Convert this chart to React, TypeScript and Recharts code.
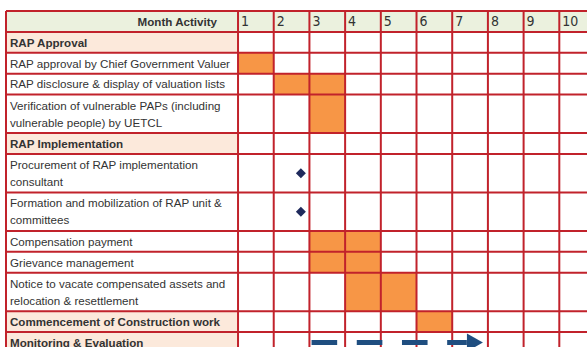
import React from 'react';
import { ComposedChart, XAxis, YAxis, ReferenceArea, ReferenceLine, Scatter } from 'recharts';

// month columns
const months = ['1', '2', '3', '4', '5', '6', '7', '8', '9', '10'];

// activity rows ("\n" = wrapped line in the cell)
const activities = [
  'RAP Approval',
  'RAP approval by Chief Government Valuer',
  'RAP disclosure & display of valuation lists',
  'Verification of vulnerable PAPs (including\nvulnerable people) by UETCL',
  'RAP Implementation',
  'Procurement of RAP implementation\nconsultant',
  'Formation and mobilization of RAP unit &\ncommittees',
  'Compensation payment',
  'Grievance management',
  'Notice to vacate compensated assets and\nrelocation & resettlement',
  'Commencement of Construction work',
  'Monitoring & Evaluation',
];

const sectionHeads = [true, false, false, false, true, false, false, false, false, false, true, true];

// months shaded for each activity
const activeMonths = [[], [1], [2, 3], [3], [], [], [], [3, 4], [3, 4], [4, 5], [6], []];

// milestone diamonds: row index and position on the month axis
const milestones = [
  { row: 5, month: 1.76 },
  { row: 6, month: 1.76 },
];

// ongoing activity drawn as a dashed arrow
const ongoing = [{ row: 11, from: 2.06, to: 6.86 }];

const LABEL_COL = 6.5; // activity column width, in month units
const EXTRA_LINE = 0.84; // added row height per wrapped line

const GRID = '#c1222b';
const ORANGE = '#f79646';
const PEACH = '#fce9db';
const HEADER = '#ebf1de';
const TEXT = '#333333';
const FONT = '"Liberation Sans", Arial, sans-serif';

let cursor = 1;
const rows = activities.map((name, i) => {
  const lines = name.split('\n');
  const h = 1 + (lines.length - 1) * EXTRA_LINE;
  const r = { lines, section: sectionHeads[i], y0: cursor, y1: cursor + h, x: -LABEL_COL, y: cursor + h / 2 };
  cursor += h;
  return r;
});
const totalHeight = cursor;

const headerCells = months.map((m, i) => ({ label: m, x: i, y: 0.5 }));
const headerTitle = [{ label: 'Month Activity', x: 0, y: 0.5 }];
const diamonds = milestones.map((d) => ({ x: d.month, y: rows[d.row].y }));
const arrowHeads = ongoing.map((o) => ({ x: o.to, y: rows[o.row].y }));

const RowLabel = (props: any) => {
  const { cx, cy, payload } = props;
  const n = payload.lines.length;
  return (
    <text fontSize={11.6} fontFamily={FONT} fill={TEXT} fontWeight={payload.section ? 'bold' : 'normal'}>
      {payload.lines.map((l: string, i: number) => (
        <tspan key={i} x={cx + 4} y={cy + 4.3 + (i - (n - 1) / 2) * 17}>
          {l}
        </tspan>
      ))}
    </text>
  );
};

const MonthLabel = (props: any) => {
  const { cx, cy, payload } = props;
  return (
    <text x={cx + 3} y={cy + 5} fontSize={14} fontFamily={'"Liberation Sans Narrow", "DejaVu Sans Condensed", sans-serif'} fill={TEXT}>
      {payload.label}
    </text>
  );
};

const TitleLabel = (props: any) => {
  const { cx, cy, payload } = props;
  return (
    <text x={cx - 21} y={cy + 4.5} textAnchor="end" fontSize={11.6} fontWeight="bold" fontFamily={FONT} fill={TEXT}>
      {payload.label}
    </text>
  );
};

const Diamond = (props: any) => {
  const { cx, cy } = props;
  return <polygon points={`${cx},${cy - 5} ${cx + 5},${cy} ${cx},${cy + 5} ${cx - 5},${cy}`} fill="#1f2a5c" />;
};

const ArrowHead = (props: any) => {
  const { cx, cy } = props;
  return <polygon points={`${cx - 16},${cy - 9} ${cx},${cy} ${cx - 16},${cy + 9}`} fill="#1f4e80" />;
};

export default function App() {
  const hLines = [0, 1, ...rows.map((r) => r.y1)];
  const vLines = [-LABEL_COL, 0, ...months.map((_, i) => i + 1)];

  return (
    <div style={{ position: 'absolute', left: 0, top: 0, width: 587, height: 347, overflow: 'hidden', background: '#fff' }}>
      <ComposedChart width={600} height={360} margin={{ top: 11, right: 5, bottom: 7, left: 6 }}>
        <XAxis type="number" dataKey="x" domain={[-LABEL_COL, months.length]} allowDataOverflow hide />
        <YAxis type="number" dataKey="y" domain={[0, totalHeight]} reversed allowDataOverflow hide />

        {/* header band and section label cells */}
        <ReferenceArea x1={-LABEL_COL} x2={months.length} y1={0} y2={1} fill={HEADER} fillOpacity={1} stroke="none" />
        {rows.map((r, i) =>
          r.section ? (
            <ReferenceArea key={'s' + i} x1={-LABEL_COL} x2={0} y1={r.y0} y2={r.y1} fill={PEACH} fillOpacity={1} stroke="none" />
          ) : null
        )}

        {/* shaded months */}
        {rows.map((r, i) =>
          activeMonths[i].map((m) => (
            <ReferenceArea key={`c${i}-${m}`} x1={m - 1} x2={m} y1={r.y0} y2={r.y1} fill={ORANGE} fillOpacity={1} stroke="none" />
          ))
        )}

        {/* grid */}
        {hLines.map((y, i) => (
          <ReferenceLine key={'h' + i} y={y} stroke={GRID} strokeWidth={2} />
        ))}
        {vLines.map((x, i) => (
          <ReferenceLine key={'v' + i} x={x} stroke={GRID} strokeWidth={2} />
        ))}

        {/* ongoing activity */}
        {ongoing.map((o, i) => (
          <ReferenceLine
            key={'o' + i}
            segment={[
              { x: o.from, y: rows[o.row].y },
              { x: o.to - 0.45, y: rows[o.row].y },
            ]}
            stroke="#1f4e80"
            strokeWidth={5}
            strokeDasharray="25.6 19.6"
          />
        ))}

        <Scatter data={rows} shape={RowLabel} isAnimationActive={false} />
        <Scatter data={headerCells} shape={MonthLabel} isAnimationActive={false} />
        <Scatter data={headerTitle} shape={TitleLabel} isAnimationActive={false} />
        <Scatter data={diamonds} shape={Diamond} isAnimationActive={false} />
        <Scatter data={arrowHeads} shape={ArrowHead} isAnimationActive={false} />
      </ComposedChart>
    </div>
  );
}
